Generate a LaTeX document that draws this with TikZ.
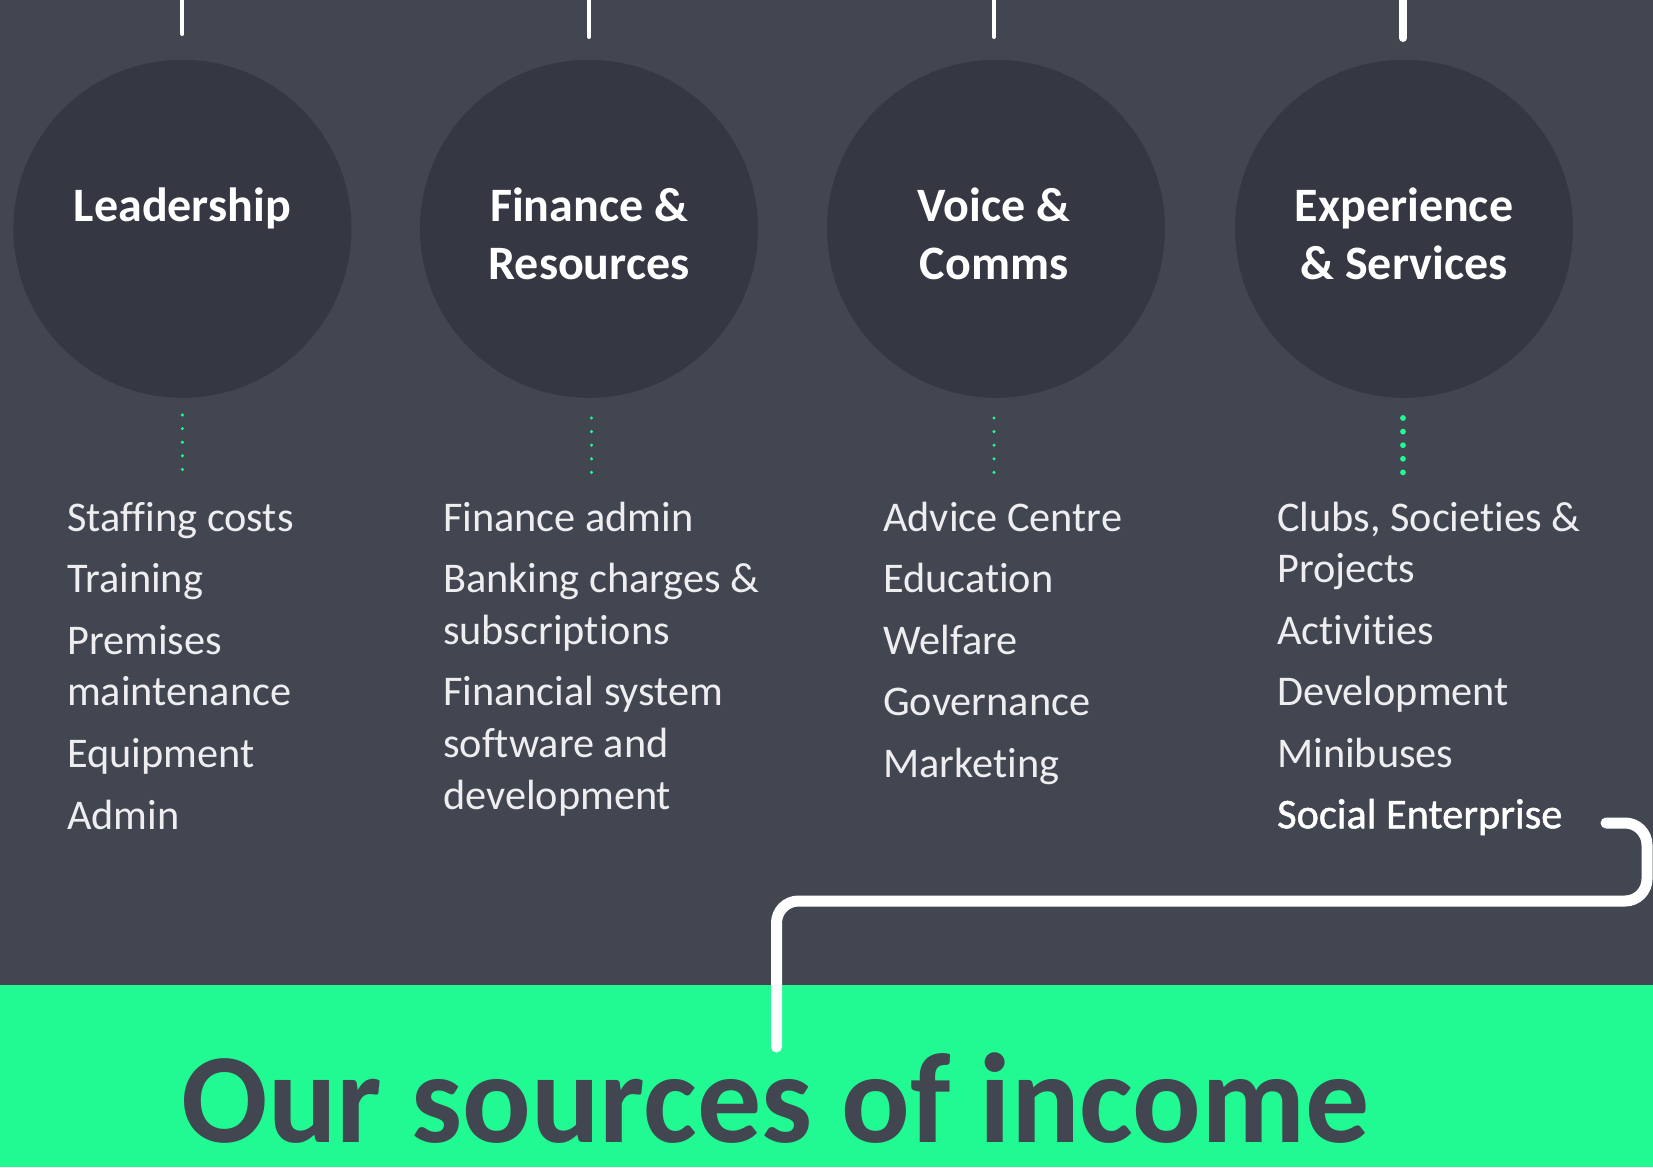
\documentclass[tikz,border=0pt]{standalone}
\usepackage{fontspec}
\setmainfont{Carlito}[Ligatures=CommonOff]
\newfontfamily\semifont{Carlito}[Ligatures=CommonOff, FakeBold=1.2]
\usetikzlibrary{calc}
\definecolor{bgc}{HTML}{424651}
\definecolor{circc}{HTML}{353742}
\definecolor{greenc}{HTML}{21FA92}
\definecolor{itemc}{HTML}{EEEEF0}
\tikzset{
  hub/.style={circle, fill=circc, minimum size=338pt, inner sep=0pt},
  head/.style={text=white, font=\fontsize{48}{58}\selectfont\bfseries, anchor=base, inner sep=0pt},
  item/.style={text=itemc, font=\fontsize{42.3}{52}\selectfont, anchor=base west, inner sep=0pt},
  itemse/.style={text=white, font=\fontsize{42.3}{52}\selectfont\semifont, anchor=base west, inner sep=0pt},
  stem/.style={white, line width=4pt, line cap=round},
  stemthick/.style={white, line width=8pt, line cap=round},
  link/.style={white, line width=11pt, line cap=round, rounded corners=22pt},
  titletext/.style={text=bgc, font=\fontsize{128}{136}\selectfont\bfseries, anchor=base, inner sep=0pt},
}
\begin{document}
\begin{tikzpicture}[x=1pt, y=-1pt]
\useasboundingbox (0,0) rectangle (1653,1167);
\fill[bgc] (0,0) rectangle (1653,1167);
\fill[greenc] (0,985) rectangle (1653,1167);

% stems from the top
\coordinate (t1a) at (182.4,-5); \coordinate (t1b) at (182.4,34);
\coordinate (t2a) at (589,-5);   \coordinate (t2b) at (589,37);
\coordinate (t3a) at (994,-5);   \coordinate (t3b) at (994,37);
\coordinate (t4a) at (1403,-5);  \coordinate (t4b) at (1403,38);
\draw[stem] (t1a) -- (t1b);
\draw[stem] (t2a) -- (t2b);
\draw[stem] (t3a) -- (t3b);
\draw[stemthick] (t4a) -- (t4b);

% circles
\node[hub] (c1) at (182.4,228.8) {};
\node[hub] (c2) at (589,228.8) {};
\node[hub] (c3) at (996,228.8) {};
\node[hub] (c4) at (1404,228.8) {};

% headings
\node[head] (h1) at (182.4,221.7) {Leadership};
\node[head] (h2a) at (589,221.7) {Finance \&};
\node[head] (h2b) at (589,279.7) {Resources};
\node[head] (h3a) at (994,221.7) {Voice \&};
\node[head] (h3b) at (994,279.7) {Comms};
\node[head] (h4a) at (1404,221.7) {Experience};
\node[head] (h4b) at (1404,279.7) {\& Services};

% dotted lines
\foreach \k in {0,...,4} {
  \fill[greenc] (182.4,{415+13.6*\k}) circle (1.7pt);
  \fill[greenc] (591.5,{418+13.6*\k}) circle (1.7pt);
  \fill[greenc] (994,{418+13.6*\k}) circle (1.7pt);
  \fill[greenc] (1403,{418+13.6*\k}) circle (2.9pt);
}

% column 1
\node[item] (a1) at (67,531.7) {Staffing costs};
\node[item] (a2) at (67,592.7) {Training};
\node[item] (a3) at (67,654) {Premises};
\node[item] (a3b) at (67,705.7) {maintenance};
\node[item] (a4) at (67,767.3) {Equipment};
\node[item] (a5) at (67,829.3) {Admin};

% column 2
\node[item] (b1) at (443,531.7) {Finance admin};
\node[item] (b2) at (443,592.7) {Banking charges \&};
\node[item] (b2b) at (443,644) {subscriptions};
\node[item] (b3) at (443,705.7) {Financial system};
\node[item] (b3b) at (443,757.3) {software and};
\node[item] (b3c) at (443,809) {development};

% column 3
\node[item] (v1) at (883,531.7) {Advice Centre};
\node[item] (v2) at (883,592.7) {Education};
\node[item] (v3) at (883,654) {Welfare};
\node[item] (v4) at (883,715.7) {Governance};
\node[item] (v5) at (883,777.7) {Marketing};

% column 4
\node[item] (e1) at (1277,531.7) {Clubs, Societies \&};
\node[item] (e1b) at (1277,582.5) {Projects};
\node[item] (e2) at (1277,644) {Activities};
\node[item] (e3) at (1277,705.3) {Development};
\node[item] (e4) at (1277,767.3) {Minibuses};
\node[itemse] (se) at (1277,828.3) {Social Enterprise};

% connector to the income title
\coordinate (cs) at (1606,823);
\coordinate (ce) at (776.5,1047);
\draw[link] (cs) -- (1647,823) -- (1647,901) -- (776.5,901) -- (ce);

% title
\node[titletext] (title) at (776,1142) {Our sources of income};
\end{tikzpicture}
\end{document}
